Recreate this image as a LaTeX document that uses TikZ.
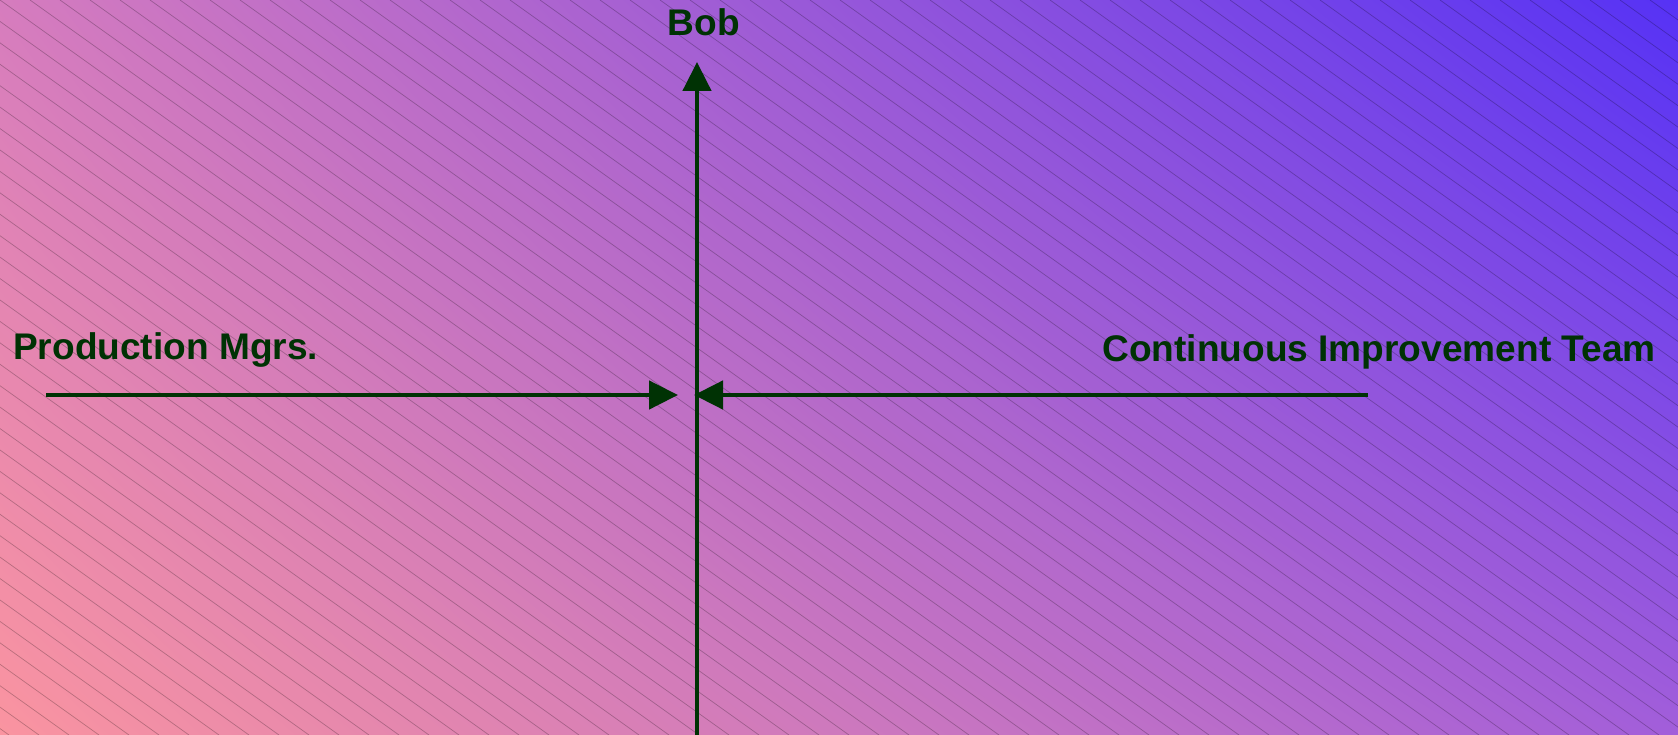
\documentclass[tikz,border=0pt]{standalone}
\usepackage{fontspec}
\setmainfont{Liberation Sans}
\usetikzlibrary{arrows.meta, shadings}

\definecolor{axisgreen}{RGB}{0,50,4}
\definecolor{bgtl}{RGB}{214,124,190}
\definecolor{bgtr}{RGB}{86,50,245}
\definecolor{bgbl}{RGB}{250,148,160}
\definecolor{bgbr}{RGB}{162,94,218}

\begin{document}
\begin{tikzpicture}[x=0.75pt, y=-0.75pt,
    axis/.style={draw=axisgreen, line width=3.5pt,
      -{Triangle[length=21.75pt, width=21pt]}},
    party/.style={text=axisgreen, inner sep=0pt,
      font=\bfseries\fontsize{27.8}{30}\selectfont},
    hatch/.style={draw=black, draw opacity=0.25, line width=0.5pt}]
  \useasboundingbox (0, 0) rectangle (1678, 735);
  \shade[upper left=bgtl, upper right=bgtr, lower left=bgbl, lower right=bgbr]
    (0, 0) rectangle (1678, 735);

  \begin{scope}
    \clip (0, 0) rectangle (1678, 735);
    \foreach \x in {-1050, -1020, ..., 1680}
      \draw[hatch] (\x, 0) -- ++(1029, 735);
  \end{scope}

  \coordinate (bottom) at (697, 735);
  \coordinate (top) at (697, 62);
  \coordinate (left) at (46, 395);
  \coordinate (right) at (1368, 395);
  \coordinate (lefttip) at (678, 395);
  \coordinate (righttip) at (694, 395);

  \node[party, anchor=base] (bob) at (704, 36) {Bob};
  \node[party, anchor=base west] (prod) at (13, 359) {Production Mgrs.};
  \node[party, anchor=base east] (cit) at (1656, 361) {Continuous Improvement Team};

  \draw[axis] (bottom) -- (top);
  \draw[axis] (left) -- (lefttip);
  \draw[axis] (right) -- (righttip);
\end{tikzpicture}
\end{document}
